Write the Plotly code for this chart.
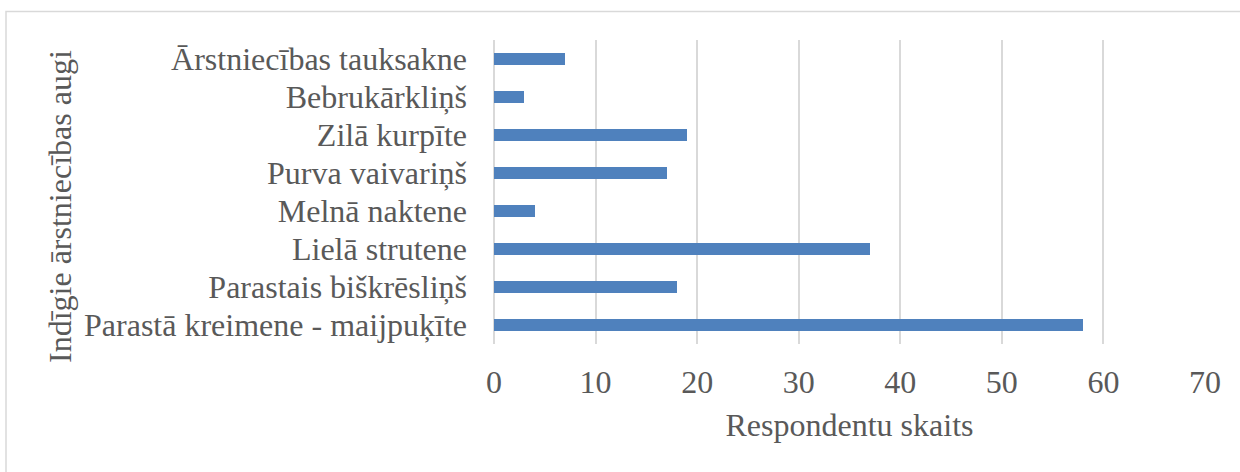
import plotly.graph_objects as go

# Plant names (top to bottom) and number of respondents for each
plants = [
    "Ārstniecības tauksakne",
    "Bebrukārkliņš",
    "Zilā kurpīte",
    "Purva vaivariņš",
    "Melnā naktene",
    "Lielā strutene",
    "Parastais biškrēsliņš",
    "Parastā kreimene - maijpuķīte",
]
respondents = [7, 3, 19, 17, 4, 37, 18, 58]
x_ticks = [0, 10, 20, 30, 40, 50, 60, 70]

x_title = "Respondentu skaits"
y_title = "Indīgie ārstniecības augi"

W, H = 1240, 472
ML, MR, MT, MB = 494, 35, 40, 128
PW, PH = W - ML - MR, H - MT - MB

FONT = "'Liberation Serif', 'Times New Roman', Times, serif"
TEXT = "#595959"
GRID = "#D9D9D9"
BAR = "#4F81BD"


def px_x(px):
    return (px - ML) / PW


def px_y(py):
    return 1 - (py - MT) / PH


fig = go.Figure(
    go.Bar(
        x=respondents,
        y=plants,
        orientation="h",
        width=0.34,
        marker=dict(color=BAR, line=dict(width=0)),
    )
)

fig.update_layout(
    width=W,
    height=H,
    margin=dict(l=ML, r=MR, t=MT, b=MB),
    paper_bgcolor="white",
    plot_bgcolor="white",
    showlegend=False,
    font=dict(family=FONT, color=TEXT, size=32),
    bargap=0,
)

fig.update_xaxes(
    range=[0, 70],
    tickvals=x_ticks,
    ticktext=[str(v) for v in x_ticks],
    showgrid=True,
    gridcolor=GRID,
    gridwidth=1.5,
    zeroline=True,
    zerolinecolor=GRID,
    zerolinewidth=1.5,
    showline=False,
    ticks="",
    tickfont=dict(family=FONT, size=32, color=TEXT),
    ticklabelstandoff=16,
    title=dict(text=x_title, font=dict(family=FONT, size=32, color=TEXT), standoff=14),
    fixedrange=True,
)

fig.update_yaxes(
    categoryorder="array",
    categoryarray=plants,
    autorange="reversed",
    showgrid=False,
    zeroline=False,
    showline=False,
    ticks="",
    tickfont=dict(family=FONT, size=32, color=TEXT),
    ticklabelstandoff=26,
    fixedrange=True,
)

# Vertical axis title
fig.add_annotation(
    text=y_title,
    textangle=-90,
    xref="paper",
    yref="paper",
    x=px_x(60),
    y=px_y(207),
    xanchor="center",
    yanchor="middle",
    showarrow=False,
    font=dict(family=FONT, size=32, color=TEXT),
)

# Chart area frame (runs past the right and bottom edges of the page)
fig.add_shape(
    type="rect",
    xref="paper",
    yref="paper",
    x0=px_x(6),
    x1=px_x(W + 20),
    y0=px_y(H + 20),
    y1=px_y(11.5),
    line=dict(color=GRID, width=1.5),
    fillcolor="rgba(0,0,0,0)",
    layer="below",
)

fig.write_html("out.html")
